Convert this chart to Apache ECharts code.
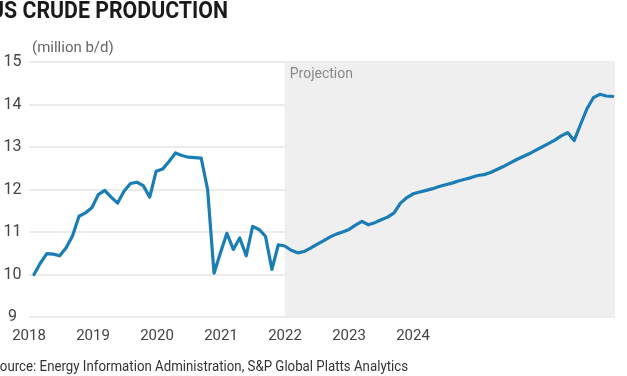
<!DOCTYPE html>
<html>
<head>
<meta charset="utf-8">
<script src="https://cdn.jsdelivr.net/npm/echarts@6/dist/echarts.min.js"></script>
<style>
html,body{margin:0;padding:0;background:#fff;}
#chart{width:627px;height:376px;}
</style>
</head>
<body>
<div id="chart"></div>
<script>
// Monthly US crude production, million b/d, starting Jan 2018
var production = [
  10.00, 10.27, 10.49, 10.48, 10.44, 10.63, 10.91, 11.37, 11.45, 11.57, 11.88, 11.98,
  11.82, 11.68, 11.96, 12.14, 12.17, 12.09, 11.82, 12.43, 12.48, 12.66, 12.86, 12.80,
  12.76, 12.75, 12.74, 12.00, 10.03, 10.51, 10.97, 10.59, 10.86, 10.44, 11.13, 11.06,
  10.90, 10.12, 10.70, 10.67, 10.57, 10.51, 10.54, 10.62, 10.71, 10.79, 10.88, 10.95,
  11.00, 11.06, 11.16, 11.25, 11.17, 11.22, 11.29, 11.35, 11.45, 11.68, 11.81, 11.90,
  11.94, 11.98, 12.02, 12.07, 12.11, 12.15, 12.20, 12.24, 12.28, 12.33, 12.35, 12.40,
  12.47, 12.54, 12.62, 12.70, 12.77, 12.84, 12.92, 13.00, 13.08, 13.16, 13.26, 13.34,
  13.15, 13.53, 13.90, 14.16, 14.24, 14.20, 14.19
];
var monthIndex = production.map(function (v, i) { return i; });
var yearLabels = [2018, 2019, 2020, 2021, 2022, 2023, 2024];
var yTicks = [9, 10, 11, 12, 13, 14, 15];
var projectionStart = 39; // month index where projection begins
var titleText = 'US CRUDE PRODUCTION';
var unitText = '(million b/d)';
var projectionText = 'Projection';
var sourceText = 'Source: Energy Information Administration, S&P Global Platts Analytics';

var xMin = -0.778, xMax = 90.36;
var seriesData = monthIndex.map(function (m, i) { return [m, production[i]]; });

var FONT = 'Roboto, "Liberation Sans", Arial, sans-serif';

// horizontal squeeze factor so a text spans a target width (condensed look)
var measureCtx = document.createElement('canvas').getContext('2d');
function squeeze(text, font, target) {
  measureCtx.font = font;
  var w = measureCtx.measureText(text).width;
  return Math.min(1, target / w);
}
var titleFont = 'bold 24px ' + FONT;
var unitFont = '15px ' + FONT;
var sourceFont = '15px ' + FONT;

var chart = echarts.init(document.getElementById('chart'), null, {renderer: 'canvas'});
chart.setOption({
  animation: false,
  backgroundColor: '#ffffff',
  grid: {left: 29, right: 12, top: 62, bottom: 59},
  xAxis: [
    {type: 'value', min: xMin, max: xMax, show: false, position: 'bottom'},
    {
      type: 'value', min: yearLabels[0], max: 2027.156, interval: 1, position: 'bottom',
      axisLine: {show: false}, axisTick: {show: false}, splitLine: {show: false},
      axisLabel: {
        margin: 12, color: '#444', fontFamily: FONT, fontSize: 15,
        showMaxLabel: false,
        formatter: function (v) {
          var y = Math.round(v);
          return yearLabels.indexOf(y) >= 0 ? String(y) : '';
        }
      }
    }
  ],
  yAxis: {
    type: 'value', min: yTicks[0], max: yTicks[yTicks.length - 1], interval: 1,
    axisLine: {show: false}, axisTick: {show: false},
    splitLine: {lineStyle: {color: '#e4e4e4', width: 1.5}},
    axisLabel: {align: 'center', margin: 16.5, color: '#444', fontFamily: FONT, fontSize: 16}
  },
  graphic: [
    {type: 'text', x: 228, y: 12, scaleX: squeeze(titleText, titleFont, 238),
      style: {x: 0, y: 0, text: titleText, textAlign: 'right', textVerticalAlign: 'middle',
      font: titleFont, fill: '#1a1a1a'}},
    {type: 'text', x: 32, y: 48, scaleX: squeeze(unitText, unitFont, 83),
      style: {x: 0, y: 0, text: unitText, textAlign: 'left', textVerticalAlign: 'middle',
      font: unitFont, fill: '#666'}},
    {type: 'text', x: 408, y: 367, scaleX: squeeze(sourceText, sourceFont, 416),
      style: {x: 0, y: 0, text: sourceText, textAlign: 'right', textVerticalAlign: 'middle',
      font: sourceFont, fill: '#333'}}
  ],
  series: [
    {
      type: 'line', xAxisIndex: 0, data: [], z: -1, silent: true,
      markArea: {
        silent: true,
        itemStyle: {color: '#efefef'},
        label: {show: true, position: 'insideTopLeft', color: '#8a8a8a', fontFamily: FONT, fontSize: 14, distance: 5},
        data: [[{name: projectionText, xAxis: projectionStart}, {xAxis: xMax}]]
      }
    },
    {
      type: 'line', xAxisIndex: 0, data: seriesData, showSymbol: false, z: 3,
      lineStyle: {color: '#1a7db5', width: 3.2, join: 'round', cap: 'round'},
      itemStyle: {color: '#1a7db5'}
    }
  ]
});
</script>
</body>
</html>
